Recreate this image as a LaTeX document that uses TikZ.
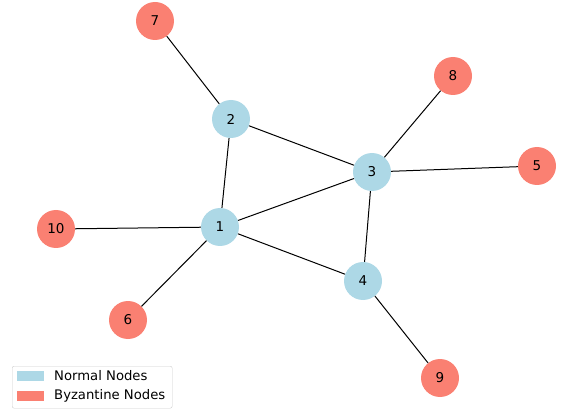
\documentclass[tikz,border=0pt]{standalone}
\usepackage{fontspec}
\setmainfont{DejaVu Sans}
\definecolor{normalc}{HTML}{ADD8E6}
\definecolor{byzc}{HTML}{FA8072}
\begin{document}
\begin{tikzpicture}[x=1pt,y=-1pt,
  vtx/.style={circle,minimum size=38pt,inner sep=0pt,font=\fontsize{13.5}{15}\selectfont},
  normal/.style={vtx,fill=normalc},
  byz/.style={vtx,fill=byzc},
  edge/.style={draw=black,line width=1pt},
  patch/.style={minimum width=27pt,minimum height=10pt,inner sep=0pt},
  legtext/.style={anchor=west,inner sep=0pt,font=\fontsize{13.2}{15}\selectfont}]
\useasboundingbox (0,0) rectangle (563,409);
% vertices
\node[normal] (n1) at (220,227) {1};
\node[normal] (n2) at (231,119) {2};
\node[normal] (n3) at (372,172) {3};
\node[normal] (n4) at (363,281) {4};
\node[byz] (n5) at (537,166) {5};
\node[byz] (n6) at (128,320) {6};
\node[byz] (n7) at (155,21) {7};
\node[byz] (n8) at (453,76) {8};
\node[byz] (n9) at (440,378) {9};
\node[byz] (n10) at (56,229) {10};
% edges
\foreach \a/\b in {n1/n2,n1/n3,n1/n4,n2/n3,n3/n4,n2/n7,n3/n8,n3/n5,n1/n10,n1/n6,n4/n9}
  \draw[edge] (\a) -- (\b);
% legend
\node[draw=black!20,rounded corners=2pt,minimum width=160pt,minimum height=42pt,anchor=north west,inner sep=0pt,fill=white] (leg) at (12,366) {};
\node[patch,fill=normalc,anchor=north west] (p1) at (17,371) {};
\node[patch,fill=byzc,anchor=north west] (p2) at (17,391) {};
\node[legtext] (t1) at (54,376) {Normal Nodes};
\node[legtext] (t2) at (54,396) {Byzantine Nodes};
\end{tikzpicture}
\end{document}
